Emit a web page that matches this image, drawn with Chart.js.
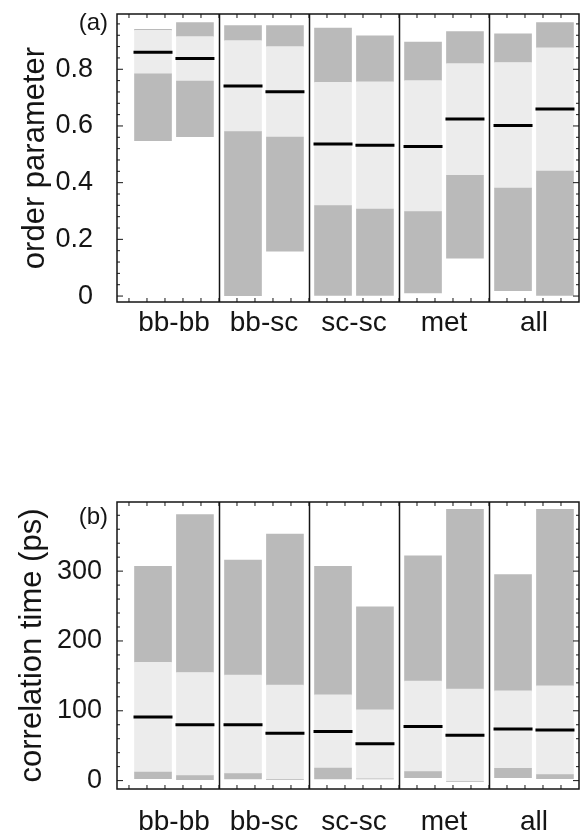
<!DOCTYPE html>
<html>
<head>
<meta charset="utf-8">
<script src="https://cdn.jsdelivr.net/npm/chart.js@4.4.0/dist/chart.umd.min.js"></script>
<style>
  body { margin: 0; background: #fff; }
  canvas { display: block; }
</style>
</head>
<body>
<canvas id="chartA" width="584" height="400"></canvas>
<canvas id="chartB" width="584" height="436"></canvas>
<script>
// categories (two bars per group)
const groups = ['bb-bb', 'bb-sc', 'sc-sc', 'met', 'all'];

// (a) order parameter: bottom, lower quartile, median, upper quartile, top
const orderLow  = [0.548, 0.562, 0.001, 0.158, 0.002, 0.002, 0.011, 0.134, 0.019, 0.002];
const orderQ1   = [0.784, 0.758, 0.580, 0.561, 0.319, 0.307, 0.298, 0.426, 0.381, 0.441];
const orderMed  = [0.860, 0.838, 0.741, 0.721, 0.536, 0.532, 0.528, 0.625, 0.602, 0.660];
const orderQ3   = [0.937, 0.915, 0.901, 0.880, 0.754, 0.756, 0.760, 0.820, 0.824, 0.876];
const orderHigh = [0.941, 0.965, 0.954, 0.954, 0.945, 0.918, 0.896, 0.933, 0.925, 0.965];
const orderTicks = [0, 0.2, 0.4, 0.6, 0.8];
const orderTickLabels = ['0', '0.2', '0.4', '0.6', '0.8'];

// (b) correlation time (ps)
const timeLow  = [2.9, 1.4, 2.4, 1.4, 2.4, 2.4, 4.3, -1, 4.3, 2.9];
const timeQ1   = [12.4, 7.1, 10, 1.4, 18, 2.4, 12.9, -1, 17.6, 8.6];
const timeMed  = [91, 80, 80, 68, 70.5, 52.9, 77.6, 64.8, 73.8, 72.4];
const timeQ3   = [169.5, 154.8, 151, 136.7, 122.9, 101.4, 142.4, 131, 128.6, 135.7];
const timeHigh = [306.7, 381, 315.7, 353, 307, 249, 321.9, 388.6, 295.2, 388.6];
const timeTicks = [0, 100, 200, 300];
const timeTickLabels = ['0', '100', '200', '300'];

const darkGray = '#bababa';
const lightGray = '#ececec';
const ink = '#151515';
const fontFamily = "'Liberation Sans', Arial, Helvetica, sans-serif";
const barShift = 0.233;

const barX = i => Math.floor(i / 2) + (i % 2 ? barShift : -barShift);
const segment = (lo, hi) => lo.map((v, i) => ({ x: barX(i), y: [v, hi[i]] }));

const frameTicks = {
  id: 'frameTicks',
  afterDatasetsDraw(chart, args, opts) {
    const { ctx, chartArea: a, scales: { x, y } } = chart;
    const seg = (x1, y1, x2, y2) => { ctx.beginPath(); ctx.moveTo(x1, y1); ctx.lineTo(x2, y2); ctx.stroke(); };
    ctx.save();
    ctx.strokeStyle = ink;
    // group dividers
    ctx.lineWidth = 1.5;
    for (let g = 0.5; g < groups.length - 1; g++) {
      const px = Math.round(x.getPixelForValue(g)) + 0.5;
      seg(px, a.top, px, a.bottom);
    }
    // x ticks top and bottom
    ctx.lineWidth = 1;
    for (let k = 0; ; k++) {
      const v = -0.5 + 0.2 * k;
      if (v > x.max - 0.05) break;
      const px = x.getPixelForValue(v);
      seg(px, a.bottom, px, a.bottom - 4);
      seg(px, a.top, px, a.top + 4);
    }
    // y ticks left and right
    const step = opts.minorStep;
    for (let k = Math.ceil(y.min / step); k * step <= y.max; k++) {
      const py = y.getPixelForValue(k * step);
      const len = k % 5 === 0 ? 6 : 3;
      seg(a.left, py, a.left + len, py);
      seg(a.right, py, a.right - len, py);
    }
    // frame
    ctx.lineWidth = 1.5;
    ctx.strokeRect(a.left, a.top, a.right - a.left, a.bottom - a.top);
    // panel label
    ctx.fillStyle = ink;
    ctx.font = '24px ' + fontFamily;
    ctx.textAlign = 'right';
    ctx.textBaseline = 'alphabetic';
    ctx.fillText(opts.label, a.left - 9, a.top + opts.labelDy);
    ctx.restore();
  }
};

function makeChart(id, p) {
  return new Chart(document.getElementById(id), {
    type: 'bar',
    data: {
      datasets: [
        {
          type: 'line',
          data: p.med.map((v, i) => ({ x: barX(i), y: v })),
          showLine: false,
          pointStyle: 'line',
          pointRadius: 19.5,
          pointBorderWidth: 3,
          pointBorderColor: '#000',
          order: 0
        },
        { data: segment(p.low, p.q1), backgroundColor: darkGray, order: 1 },
        { data: segment(p.q1, p.q3), backgroundColor: lightGray, order: 1 },
        { data: segment(p.q3, p.high), backgroundColor: darkGray, order: 1 }
      ]
    },
    options: {
      responsive: false,
      animation: false,
      devicePixelRatio: 1,
      events: [],
      datasets: {
        bar: { grouped: false, borderWidth: 0, barPercentage: 1, categoryPercentage: 1, maxBarThickness: 37 }
      },
      layout: { autoPadding: false, padding: { left: 0, right: 5, top: p.top, bottom: 0 } },
      scales: {
        x: {
          type: 'linear',
          min: -0.633,
          max: 4.5,
          offset: false,
          grid: { display: false, drawTicks: false },
          border: { display: false },
          afterBuildTicks: s => { s.ticks = groups.map((g, i) => ({ value: i })); },
          afterFit: s => { s.height = p.xHeight; s.paddingLeft = 0; s.paddingRight = 0; },
          ticks: {
            callback: (v, i) => groups[i],
            autoSkip: false,
            maxRotation: 0,
            padding: p.xPad,
            color: ink,
            font: { size: 28, family: fontFamily }
          }
        },
        y: {
          min: p.yMin,
          max: p.yMax,
          grid: { display: false, drawTicks: false },
          border: { display: false },
          afterBuildTicks: s => { s.ticks = p.ticks.map(v => ({ value: v })); },
          afterFit: s => { s.width = 117; s.paddingTop = 0; s.paddingBottom = 0; },
          ticks: {
            callback: (v, i) => p.tickLabels[i],
            padding: p.yPad,
            color: ink,
            font: { size: 27, family: fontFamily }
          },
          title: {
            display: true,
            text: p.title,
            color: ink,
            font: { size: 31, family: fontFamily },
            padding: { top: p.titlePad, bottom: 0 }
          }
        }
      },
      plugins: {
        legend: { display: false },
        tooltip: { enabled: false },
        frameTicks: { minorStep: p.minorStep, label: p.label, labelDy: p.labelDy }
      }
    },
    plugins: [frameTicks]
  });
}

makeChart('chartA', {
  low: orderLow, q1: orderQ1, med: orderMed, q3: orderQ3, high: orderHigh,
  yMin: -0.021, yMax: 0.995, ticks: orderTicks, tickLabels: orderTickLabels,
  title: 'order parameter', titlePad: 17, yPad: 24, xPad: 4,
  top: 14, xHeight: 98, minorStep: 0.04, label: '(a)', labelDy: 16
});

makeChart('chartB', {
  low: timeLow, q1: timeQ1, med: timeMed, q3: timeQ3, high: timeHigh,
  yMin: -12, yMax: 399, ticks: timeTicks, tickLabels: timeTickLabels,
  title: 'correlation time (ps)', titlePad: 14, yPad: 15, xPad: 16,
  top: 102, xHeight: 47, minorStep: 20, label: '(b)', labelDy: 22
});
</script>
</body>
</html>
